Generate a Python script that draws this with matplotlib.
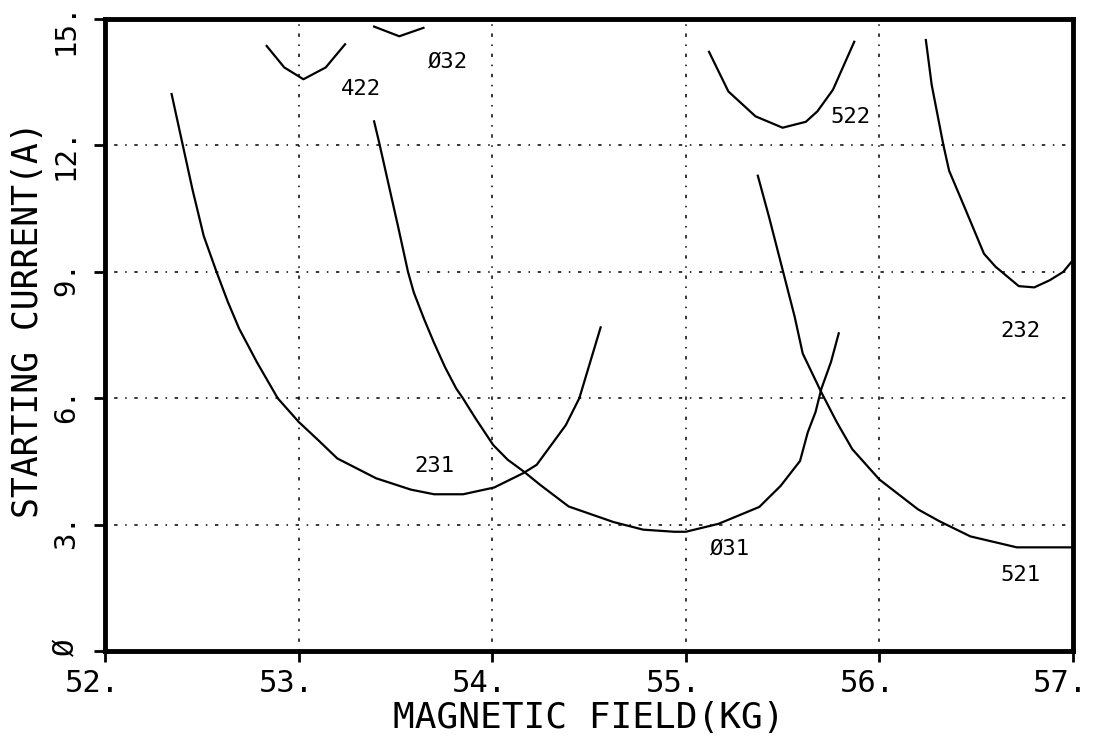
import matplotlib
matplotlib.use("Agg")
import matplotlib.pyplot as plt
from matplotlib.transforms import ScaledTranslation

plt.rcParams['font.family'] = ['DejaVu Sans Mono', 'DejaVu Sans']

# --- data (field in kG, starting current in A) ---
x_231 = [52.344, 52.402, 52.452, 52.51, 52.576, 52.635, 52.693, 52.784, 52.892, 53.00,
         53.10, 53.20, 53.40, 53.58, 53.70, 53.85, 54.01, 54.16, 54.23, 54.38,
         54.45, 54.56]
y_231 = [13.22, 12.00, 10.95, 9.85, 9.00, 8.28, 7.65, 6.86, 6.00, 5.44,
         5.01, 4.57, 4.10, 3.83, 3.72, 3.72, 3.88, 4.22, 4.42, 5.36,
         6.00, 7.68]

x_031 = [53.390, 53.415, 53.465, 53.515, 53.565, 53.595, 53.648, 53.698, 53.756, 53.814,
         53.847, 53.914, 54.005, 54.080, 54.163, 54.246, 54.395, 54.627, 54.78, 54.94,
         55.00, 55.17, 55.38, 55.49, 55.59, 55.63, 55.67, 55.70, 55.75, 55.79]
y_031 = [12.57, 12.09, 11.07, 10.05, 9.00, 8.51, 7.88, 7.33, 6.74, 6.23,
         6.01, 5.52, 4.89, 4.54, 4.26, 3.95, 3.43, 3.06, 2.88, 2.83,
         2.83, 3.02, 3.42, 3.92, 4.51, 5.19, 5.67, 6.22, 6.86, 7.54]

x_521 = [55.372, 55.43, 55.496, 55.562, 55.604, 55.70, 55.78, 55.86, 56.00, 56.20,
         56.31, 56.47, 56.71, 57.00]
y_521 = [11.28, 10.30, 9.12, 7.94, 7.06, 6.14, 5.43, 4.79, 4.07, 3.36,
         3.08, 2.72, 2.46, 2.46]

x_522 = [55.12, 55.22, 55.36, 55.50, 55.62, 55.68, 55.76, 55.87]
y_522 = [14.22, 13.28, 12.69, 12.42, 12.56, 12.81, 13.32, 14.46]

x_232 = [56.24, 56.27, 56.33, 56.36, 56.44, 56.54, 56.60, 56.72, 56.80, 56.88,
         56.95, 57.00]
y_232 = [14.50, 13.44, 12.02, 11.40, 10.53, 9.43, 9.12, 8.66, 8.63, 8.80,
         9.00, 9.28]

x_422 = [52.835, 52.926, 53.025, 53.14, 53.24]
y_422 = [14.36, 13.85, 13.57, 13.85, 14.40]

x_032 = [53.39, 53.52, 53.645]
y_032 = [14.82, 14.59, 14.79]

curves = [(x_231, y_231), (x_031, y_031), (x_521, y_521), (x_522, y_522),
          (x_232, y_232), (x_422, y_422), (x_032, y_032)]

mode_names = ["231", "Ø31", "521", "522", "232", "422", "Ø32"]
name_x = [53.70, 55.23, 56.73, 55.85, 56.73, 53.32, 53.77]
name_y = [4.38, 2.44, 1.81, 12.68, 7.60, 13.33, 13.98]

x_ticks = [52, 53, 54, 55, 56, 57]
x_ticklabels = ["52.", "53.", "54.", "55.", "56.", "57."]
y_ticks = [0, 3, 6, 9, 12, 15]
y_ticklabels = ["Ø", "3.", "6.", "9.", "12.", "15."]


def main():
    fig = plt.figure(figsize=(11.13, 7.4), dpi=100)
    ax = fig.add_axes([105 / 1113, 1 - 651 / 740, (1073 - 105) / 1113, (651 - 19) / 740])

    for xs, ys in curves:
        ax.plot(xs, ys, color="black", lw=1.6, zorder=3)

    for name, tx, ty in zip(mode_names, name_x, name_y):
        ax.text(tx, ty, name, ha="center", va="center", fontsize=16, zorder=4)

    ax.set_xlim(52, 57)
    ax.set_ylim(0, 15)

    # 점선 그리드 (plotter 스타일)
    ax.grid(True, color="black", lw=1.1, linestyle=(0, (1, 5, 2.2, 5)))
    ax.set_axisbelow(True)

    for sp in ax.spines.values():
        sp.set_linewidth(3.5)

    ax.set_xticks(x_ticks)
    ax.set_xticklabels(x_ticklabels, fontsize=22)
    ax.set_yticks(y_ticks)
    ax.set_yticklabels(y_ticklabels, fontsize=21, rotation=90, va="center")
    ax.tick_params(axis="both", direction="out", length=8, width=2, color="black")
    ax.tick_params(axis="x", pad=5)
    ax.tick_params(axis="y", pad=10)

    shift_x = ScaledTranslation(-9 / 72, 0, fig.dpi_scale_trans)
    for lab in ax.get_xticklabels():
        lab.set_transform(lab.get_transform() + shift_x)
    # y 라벨은 눈금보다 약간 아래, Ø 만 약간 위
    y_shift_pt = [3, -5, -5, -5, -6, -7]
    for lab, dy in zip(ax.get_yticklabels(), y_shift_pt):
        lab.set_transform(lab.get_transform() + ScaledTranslation(0, dy / 72, fig.dpi_scale_trans))

    ax.set_xlabel("MAGNETIC FIELD(KG)", fontsize=26, va="center")
    ax.xaxis.set_label_coords(0.5, (651 - 718) / 632)
    ax.set_ylabel("STARTING CURRENT(A)", fontsize=25, va="center")
    ax.yaxis.set_label_coords((28 - 105) / 968, (651 - 320) / 632)

    fig.savefig("out.png", dpi=100)


if __name__ == "__main__":
    main()
